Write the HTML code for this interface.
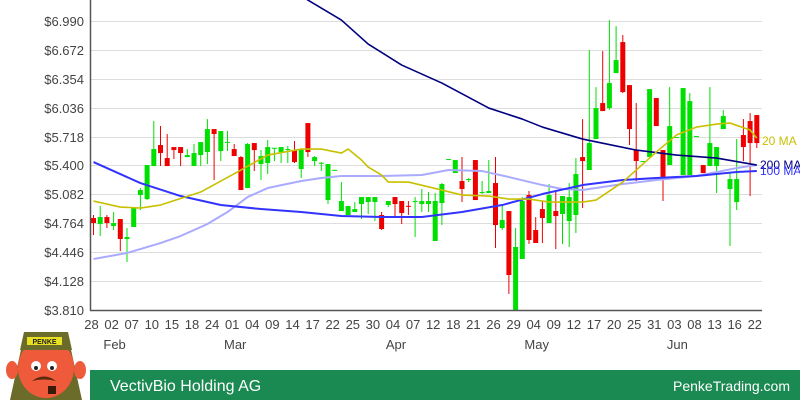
<!DOCTYPE html>
<html><head><meta charset="utf-8"><style>
html,body{margin:0;padding:0;background:#fff;width:800px;height:400px;overflow:hidden}
svg{display:block;font-family:"Liberation Sans",sans-serif}
</style></head><body>
<svg id="c" width="800" height="400" viewBox="0 0 800 400">
<g id="grid"></g>
<g id="ylab"></g>
<g id="xlab"></g>
<defs><clipPath id="pc"><rect x="91" y="0" width="672" height="310"/></clipPath></defs>
<g id="candles" clip-path="url(#pc)"></g>
<g id="mas" clip-path="url(#pc)"></g>
<line x1="90.5" y1="0" x2="90.5" y2="310.5" stroke="#555" stroke-width="1.5"/>
<line x1="90" y1="310.5" x2="762" y2="310.5" stroke="#555" stroke-width="1.5"/>
<text x="762" y="145" font-size="12" fill="#c8c000">20 MA</text>
<text x="760" y="169" font-size="12" fill="#000080">200 MA</text>
<text x="760" y="175" font-size="12" fill="#3333ff">100 MA</text>
<rect x="90" y="370" width="710" height="30" fill="#1a8a52"/>
<text x="110" y="391" font-size="16" fill="#fff">VectivBio Holding AG</text>
<text x="790" y="391" font-size="14" fill="#fff" text-anchor="end">PenkeTrading.com</text>
<g>
<path d="M10 400 L22 345 L70 345 L82 400 Z" fill="#6b6b2a"/>
<ellipse cx="46" cy="368" rx="28" ry="30" fill="#ee5a3a"/>
<ellipse cx="12" cy="370" rx="6" ry="9" fill="#ee5a3a"/>
<ellipse cx="80" cy="370" rx="6" ry="9" fill="#ee5a3a"/>
<path d="M24 332 L68 332 L72 350 L20 350 Z" fill="#6b6b2a"/>
<rect x="27" y="337" width="35" height="8" fill="#e8e020"/>
<text x="44.5" y="344" font-size="7" font-weight="bold" text-anchor="middle" fill="#222">PENKE</text>
<circle cx="36" cy="366" r="5" fill="#fff"/><circle cx="52" cy="366" r="5" fill="#fff"/>
<circle cx="36" cy="368" r="2" fill="#222"/><circle cx="52" cy="368" r="2" fill="#222"/>
<path d="M32 381 Q44 372 56 381 Q44 378 32 381Z" fill="#5a2a10"/>
<rect x="48" y="386" width="8" height="8" fill="#3a1a08"/>
</g>
</svg>
<script>
const yTicks=["$3.810","$4.128","$4.446","$4.764","$5.082","$5.400","$5.718","$6.036","$6.354","$6.672","$6.990"];
const yMin=3.81, yMax=6.99;
const xTickLabels=["28","02","07","10","15","18","24","01","04","09","14","17","22","25","30","04","07","12","18","21","26","29","04","09","12","17","20","25","31","03","08","13","16","22"];
const monthLabels=["Feb","Mar","Apr","May","Jun"];
const monthTickIdx=[1,7,15,22,29];
const opens=[4.822,4.756,4.833,4.734,4.811,4.591,4.723,5.075,5.031,5.394,5.625,5.482,5.603,5.603,5.493,5.394,5.515,5.548,5.801,5.559,5.658,5.581,5.493,5.152,5.647,5.416,5.427,5.592,5.548,5.578,5.57,5.361,5.867,5.449,5.427,5.02,5.35,4.899,4.855,4.888,4.976,4.998,4.998,4.855,4.965,5.053,5.009,4.956,5.007,4.976,4.976,4.569,4.987,5.469,5.317,5.229,5.25,5.46,5.106,5.097,5.207,4.712,4.899,3.81,4.371,5.075,4.69,4.921,4.767,4.899,4.866,4.789,4.855,5.493,5.35,5.691,6.087,6.032,6.417,6.758,6.285,5.57,5.447,5.493,6.142,5.57,5.405,5.711,5.295,5.295,5.722,5.405,5.394,5.394,5.801,5.141,4.998,5.735,5.889,5.955];
const highs=[4.855,4.954,4.855,4.888,4.811,4.712,4.943,5.152,5.405,5.889,5.834,5.746,5.603,5.603,5.581,5.636,5.658,5.911,5.801,5.779,5.779,5.636,5.504,5.647,5.647,5.57,5.68,5.595,5.603,5.614,5.669,5.581,5.867,5.504,5.438,5.416,5.352,5.218,4.954,4.998,5.053,5.053,5.053,4.888,5.009,5.053,5.009,5.009,5.053,5.141,5.108,5.097,5.207,5.471,5.46,5.493,5.261,5.46,5.229,5.46,5.493,4.965,4.899,4.712,5.053,5.119,4.833,5.009,5.196,5.13,5.064,5.207,5.482,5.911,6.67,6.263,6.659,7.0,6.934,6.835,6.285,6.087,5.449,6.241,6.142,5.57,6.263,5.713,6.252,6.197,5.724,5.405,6.263,5.603,6.01,5.328,5.691,5.911,5.977,5.955];
const lows=[4.635,4.624,4.712,4.69,4.459,4.338,4.723,4.91,5.02,5.394,5.394,5.394,5.471,5.394,5.493,5.394,5.394,5.416,5.24,5.449,5.559,5.504,5.13,5.152,5.339,5.24,5.306,5.449,5.427,5.427,5.427,5.262,5.493,5.394,5.339,4.976,5.35,4.899,4.855,4.888,4.811,4.866,4.789,4.69,4.943,4.833,4.756,4.855,4.613,4.888,4.888,4.569,4.745,5.469,5.317,4.998,5.218,5.02,5.086,5.097,4.492,4.69,3.986,3.81,4.371,4.536,4.547,4.547,4.767,4.481,4.536,4.503,4.657,4.932,5.35,5.691,5.999,6.01,6.417,6.197,5.625,5.229,5.447,5.493,5.834,5.009,5.405,5.711,5.295,5.295,5.722,5.317,5.394,5.097,5.801,4.514,4.91,5.449,5.064,5.592];
const closes=[4.767,4.833,4.767,4.767,4.591,4.613,4.943,5.13,5.405,5.581,5.537,5.394,5.57,5.537,5.515,5.537,5.658,5.801,5.746,5.779,5.66,5.504,5.13,5.636,5.57,5.504,5.603,5.595,5.603,5.581,5.438,5.581,5.548,5.493,5.43,5.416,5.352,5.009,4.954,4.921,5.053,5.053,5.053,4.701,5.009,4.976,4.877,4.954,5.009,5.009,5.009,5.009,5.196,5.471,5.46,5.141,5.251,5.02,5.108,5.119,4.745,4.8,4.195,4.503,5.009,4.58,4.547,4.822,5.075,4.844,5.064,5.053,5.306,5.449,5.647,6.032,5.999,6.307,6.56,6.208,5.801,5.449,5.449,6.241,5.834,5.251,5.834,5.713,6.252,6.109,5.724,5.317,5.647,5.603,5.944,5.251,5.251,5.603,5.647,5.647];
const ma20Idx=[0,4,7,10,16,22,26,31,34,37,38,40,41,43,44,47,52,55,59,62,65,68,73,75,79,81,84,87,90,93,95,98,99];
const ma20Val=[5.009,4.943,4.932,4.965,5.108,5.35,5.515,5.581,5.581,5.537,5.581,5.46,5.383,5.295,5.218,5.218,5.13,5.075,5.064,5.031,5.031,4.998,4.998,5.02,5.218,5.35,5.548,5.735,5.823,5.856,5.867,5.79,5.702];
const ma50Idx=[0,5,10,13,17,20,23,26,31,34,37,43,49,53,58,62,67,70,73,79,84,90,96,99];
const ma50Val=[4.371,4.437,4.547,4.624,4.756,4.888,5.053,5.152,5.229,5.262,5.284,5.284,5.295,5.35,5.339,5.273,5.185,5.141,5.13,5.196,5.24,5.284,5.372,5.405];
const ma100Idx=[0,7,13,19,25,31,37,43,49,55,61,67,73,79,84,90,96,99];
const ma100Val=[5.438,5.207,5.064,4.965,4.921,4.888,4.844,4.833,4.833,4.888,4.965,5.086,5.185,5.24,5.262,5.284,5.328,5.339];
const ma200Idx=[30,32,37,41,46,52,59,64,67,73,81,87,93,99];
const ma200Val=[7.33,7.22,7.0,6.736,6.505,6.307,6.032,5.911,5.823,5.691,5.57,5.515,5.482,5.405];

const NS="http://www.w3.org/2000/svg";
const x0=93.5, dx=6.7, pTop=21, pBot=310;
function X(i){return x0+i*dx;}
function Y(v){return pBot-(v-yMin)/(yMax-yMin)*(pBot-pTop);}
function mk(tag,attrs,parent){const e=document.createElementNS(NS,tag);for(const k in attrs)e.setAttribute(k,attrs[k]);parent.appendChild(e);return e;}
const grid=document.getElementById('grid'),ylab=document.getElementById('ylab'),xlab=document.getElementById('xlab');
yTicks.forEach((t,k)=>{
  const v=yMin+k*(yMax-yMin)/(yTicks.length-1);const y=Math.round(Y(v))+0.5;
  const l=mk('line',{x1:90,x2:762,y1:y,y2:y,stroke:'#dddddd','stroke-width':1},grid);
  
  
  const tx=mk('text',{x:84,y:y+4.5,'font-size':13,fill:'#444','text-anchor':'end'},ylab);
  
  
  tx.textContent=t;
});
xTickLabels.forEach((t,k)=>{
  const tx=mk('text',{x:X(k*3)-2,y:329,'font-size':13,fill:'#444','text-anchor':'middle'},xlab);
  
  
  tx.textContent=t;
});
monthLabels.forEach((t,k)=>{
  const tx=mk('text',{x:X(monthTickIdx[k]*3)+1,y:349,'font-size':13,fill:'#444','text-anchor':'middle'},xlab);
  
  
  tx.textContent=t;
});
const cg=document.getElementById('candles');
opens.forEach((o,i)=>{
  const c=closes[i],up=c>=o,col=up?'#00e000':'#ee0000',cx=X(i);
  const w=mk('line',{x1:cx,x2:cx,y1:Y(highs[i]),y2:Y(lows[i]),stroke:col,'stroke-width':1},cg);
  
  
  const top=Y(Math.max(o,c)),bot=Y(Math.min(o,c));
  const r=mk('rect',{x:cx-2.5,y:top,width:5,height:Math.max(1,bot-top),fill:col},cg);
  
  
});
const mg=document.getElementById('mas');
function ma(idx,val,col,w,name){
  const p=mk('polyline',{points:idx.map((i,k)=>X(i)+','+Y(val[k])).join(' '),fill:'none',stroke:col,'stroke-width':w,'stroke-linejoin':'round'},mg);
  
  
}
ma(ma50Idx,ma50Val,'#aaaaff',2,'ma50-line');
ma(ma100Idx,ma100Val,'#3333ff',2,'ma100-line');
ma(ma200Idx,ma200Val,'#000080',1.6,'ma200-line');
ma(ma20Idx,ma20Val,'#c8c000',1.6,'ma20-line');
</script>
</body></html>
